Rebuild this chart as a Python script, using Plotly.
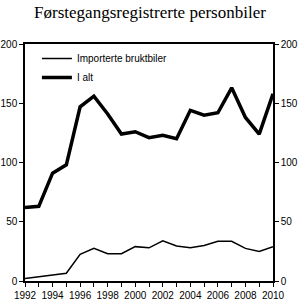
import plotly.graph_objects as go

years = list(range(1992, 2011))
i_alt = [62, 63, 91, 98, 147, 156, 141, 124, 126, 121, 123, 120, 144, 140, 142, 163, 138, 124, 158]
importerte = [2, 3.5, 5.5, 6.5, 22.5, 27.5, 23, 23, 29, 28, 34, 29.5, 28, 30, 33.5, 33.5, 27.5, 25, 29]
x_tick_vals = list(range(1992, 2011))
x_tick_text = [str(y) if y % 2 == 0 else "" for y in x_tick_vals]
y_ticks = [0, 50, 100, 150, 200]

fig = go.Figure()
fig.add_trace(go.Scatter(x=years, y=importerte, mode="lines", name="Importerte bruktbiler",
                         line=dict(color="black", width=1.5)))
fig.add_trace(go.Scatter(x=years, y=i_alt, mode="lines", name="I alt",
                         line=dict(color="black", width=3.5)))
fig.add_trace(go.Scatter(x=years, y=i_alt, mode="lines", yaxis="y2", showlegend=False,
                         hoverinfo="skip", line=dict(color="rgba(0,0,0,0)", width=0)))

axis_font = dict(family="Liberation Sans, Arial", size=10, color="black")
fig.update_layout(
    width=300, height=303,
    margin=dict(l=25, r=27, t=44, b=22, autoexpand=False),
    paper_bgcolor="white", plot_bgcolor="white",
    title=dict(text="Førstegangsregistrerte personbiler", x=0.5, xanchor="center",
               y=0.96, yanchor="middle",
               font=dict(family="Liberation Serif, Times New Roman", size=17, color="black")),
    xaxis=dict(range=[1992, 2010], tickvals=x_tick_vals, ticktext=x_tick_text,
               ticks="outside", ticklen=4, tickwidth=1, tickcolor="black",
               showline=True, linecolor="black", linewidth=1.5, mirror=True,
               showgrid=False, zeroline=False, tickfont=axis_font, tickangle=0,
               automargin=False),
    yaxis=dict(range=[0, 200], tickvals=y_ticks, ticks="outside", ticklen=4,
               tickcolor="black", showline=True, linecolor="black", linewidth=1.5,
               showgrid=False, zeroline=False, tickfont=axis_font, automargin=False),
    yaxis2=dict(range=[0, 200], tickvals=y_ticks, ticks="outside", ticklen=4,
                tickcolor="black", showline=True, linecolor="black", linewidth=1.5,
                overlaying="y", side="right", anchor="x",
                showgrid=False, zeroline=False, tickfont=axis_font, automargin=False),
    legend=dict(x=0.048, y=1.0, xanchor="left", yanchor="top", bgcolor="rgba(0,0,0,0)",
                font=dict(family="Liberation Sans, Arial", size=10, color="black"),
                tracegroupgap=0),
    showlegend=True,
)
fig.write_html("out.html")
